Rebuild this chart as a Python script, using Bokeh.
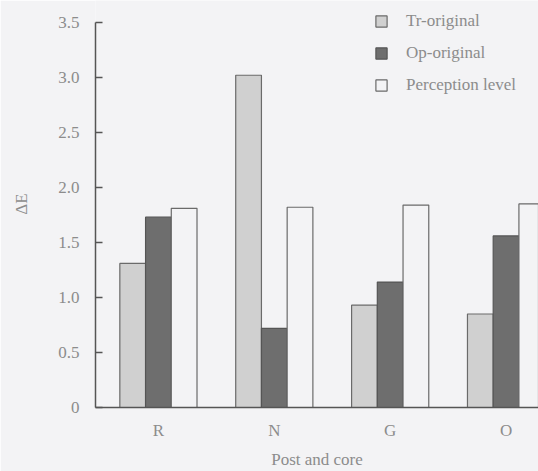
from bokeh.plotting import figure
from bokeh.models import ColumnDataSource, Legend, LegendItem, FixedTicker, Range1d
from bokeh.embed import file_html
from bokeh.resources import INLINE

categories = ["R", "N", "G", "O"]
tr_original = [1.31, 3.02, 0.93, 0.85]
op_original = [1.73, 0.72, 1.14, 1.56]
perception_level = [1.81, 1.82, 1.84, 1.85]
y_ticks = [0, 0.5, 1.0, 1.5, 2.0, 2.5, 3.0, 3.5]

BG = "#f3f3f5"
FONT = "Liberation Serif"
TXT = "#8c8c8c"
FS = "17px"

idx = list(range(len(categories)))
bw = 0.222
src = ColumnDataSource(dict(
    x_tr=[i - bw for i in idx], x_op=idx, x_pe=[i + bw for i in idx],
    tr=tr_original, op=op_original, pe=perception_level,
))

p = figure(width=538, height=471, output_backend="svg", toolbar_location=None,
           x_range=Range1d(-0.543, 3.28), y_range=Range1d(0, 3.6995),
           min_border_left=95, min_border_right=0, min_border_top=0, min_border_bottom=63)
p.background_fill_color = BG
p.border_fill_color = BG
p.outline_line_color = None
p.grid.visible = False

r_tr = p.vbar(x="x_tr", top="tr", width=bw, source=src, fill_color="#d0d0d0",
              line_color="#6a6a6a", line_width=1.2)
r_op = p.vbar(x="x_op", top="op", width=bw, source=src, fill_color="#6e6e6e",
              line_color="#555555", line_width=1.2)
r_pe = p.vbar(x="x_pe", top="pe", width=bw, source=src, fill_color=BG,
              line_color="#6a6a6a", line_width=1.2)

# y axis
ya = p.yaxis[0]
ya.bounds = (0, 3.5)
ya.ticker = FixedTicker(ticks=y_ticks)
ya.major_label_overrides = {0: "0", 0.5: "0.5", 1: "1.0", 1.5: "1.5", 2: "2.0",
                            2.5: "2.5", 3: "3.0", 3.5: "3.5"}
ya.major_tick_in = 7
ya.major_tick_out = 0
ya.minor_tick_line_color = None
ya.axis_line_color = "#555555"
ya.axis_line_width = 1.5
ya.major_tick_line_color = "#555555"
ya.major_tick_line_width = 1.5
ya.major_label_text_font = FONT
ya.major_label_text_font_size = FS
ya.major_label_text_color = TXT
ya.major_label_standoff = 16
ya.axis_label = "ΔE"
ya.axis_label_text_font = FONT
ya.axis_label_text_font_style = "normal"
ya.axis_label_text_font_size = FS
ya.axis_label_text_color = TXT
ya.axis_label_standoff = 24

# x axis
xa = p.xaxis[0]
xa.ticker = FixedTicker(ticks=idx)
xa.major_label_overrides = {i: c for i, c in enumerate(categories)}
xa.major_tick_in = 0
xa.major_tick_out = 0
xa.major_tick_line_color = None
xa.minor_tick_line_color = None
xa.axis_line_color = "#555555"
xa.axis_line_width = 1.5
xa.major_label_text_font = FONT
xa.major_label_text_font_size = FS
xa.major_label_text_color = TXT
xa.major_label_standoff = 13
xa.axis_label = "Post and core"
xa.axis_label_text_font = FONT
xa.axis_label_text_font_style = "normal"
xa.axis_label_text_font_size = FS
xa.axis_label_text_color = TXT
xa.axis_label_standoff = 7

legend = Legend(items=[
    LegendItem(label="Tr-original", renderers=[r_tr]),
    LegendItem(label="Op-original", renderers=[r_op]),
    LegendItem(label="Perception level", renderers=[r_pe]),
], location=(279, 312))
legend.background_fill_alpha = 0
legend.border_line_color = None
legend.padding = 0
legend.margin = 0
legend.spacing = 12
legend.glyph_width = 14
legend.glyph_height = 14
legend.label_standoff = 18
legend.label_text_font = FONT
legend.label_text_font_size = FS
legend.label_text_color = TXT
p.add_layout(legend, "center")

open("out.html", "w").write(file_html(p, INLINE))
